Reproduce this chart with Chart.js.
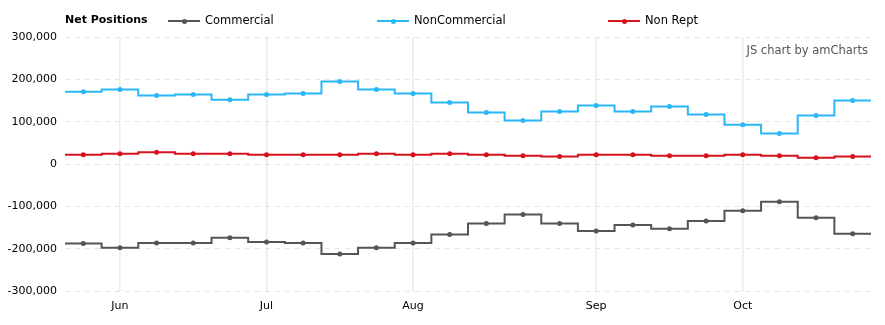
<!DOCTYPE html>
<html>
<head>
<meta charset="utf-8">
<script src="https://cdn.jsdelivr.net/npm/chart.js@4/dist/chart.umd.min.js"></script>
<style>
  body { margin: 0; background: #fff; font-family: "DejaVu Sans", Verdana, sans-serif; }
  #wrap { position: relative; width: 885px; height: 325px; }
  #legend { position: absolute; top: 12px; left: 0; width: 885px; height: 18px; font-size: 11.5px; color: #000; }
  #legend .title { position: absolute; left: 65px; top: 1px; font-weight: bold; font-size: 11px; }
  #legend .item { position: absolute; top: 0; white-space: nowrap; }
  #legend .mark { position: absolute; top: 8px; width: 32px; height: 2px; }
  #legend .mark i { position: absolute; left: 14px; top: -1.5px; width: 5px; height: 5px; border-radius: 50%; }
  #legend .txt { position: absolute; left: 37px; top: 1px; }
  #credit { position: absolute; right: 17px; top: 43px; font-size: 11.5px; color: #555; }
</style>
</head>
<body>
<div id="wrap">
  <canvas id="posChart" width="885" height="325"></canvas>
  <div id="legend"></div>
  <div id="credit">JS chart by amCharts</div>
</div>
<script>
// weekly report dates
const dates = ['2017-05-30', '2017-06-06', '2017-06-13', '2017-06-20', '2017-06-27',
  '2017-07-04', '2017-07-11', '2017-07-18', '2017-07-25', '2017-08-01', '2017-08-08',
  '2017-08-15', '2017-08-22', '2017-08-29', '2017-09-05', '2017-09-12', '2017-09-19',
  '2017-09-26', '2017-10-03', '2017-10-10', '2017-10-17', '2017-10-24'];

const commercial = [-188000, -198000, -186500, -186500, -174500, -184000, -186500, -212500,
  -198000, -186500, -166500, -140500, -119500, -140500, -158000, -144000, -153000,
  -134500, -110500, -89000, -127000, -165000];
const nonCommercial = [170500, 176000, 162000, 164000, 152000, 164000, 166500, 195000,
  176000, 166500, 145000, 121500, 102500, 124000, 138000, 124000, 136000, 117000,
  93000, 72000, 114500, 150000];
const nonRept = [22000, 24500, 27500, 24500, 24500, 22000, 22000, 22000, 24500, 22000,
  24500, 22000, 19500, 17500, 22000, 22000, 19500, 19500, 22000, 19500, 15000, 17500];

const yTicks = [-300000, -200000, -100000, 0, 100000, 200000, 300000];
const monthNames = ['Jan', 'Feb', 'Mar', 'Apr', 'May', 'Jun', 'Jul', 'Aug', 'Sep', 'Oct', 'Nov', 'Dec'];

const series = [
  { label: 'Commercial', data: commercial, color: '#555555' },
  { label: 'NonCommercial', data: nonCommercial, color: '#2ab7f7' },
  { label: 'Non Rept', data: nonRept, color: '#d5121d' }
];

function monthStart(i) {
  if (i === 0) return null;
  const m = +dates[i].slice(5, 7), pm = +dates[i - 1].slice(5, 7);
  return m !== pm ? monthNames[m - 1] : null;
}

// carry the step lines out to the edges of the plot
const edgeSteps = {
  id: 'edgeSteps',
  afterDatasetsDraw(chart) {
    const ctx = chart.ctx, area = chart.chartArea;
    chart.data.datasets.forEach((ds, i) => {
      const pts = chart.getDatasetMeta(i).data;
      const first = pts[0], last = pts[pts.length - 1];
      ctx.save();
      ctx.strokeStyle = ds.borderColor;
      ctx.lineWidth = ds.borderWidth;
      ctx.beginPath();
      ctx.moveTo(area.left, first.y); ctx.lineTo(first.x, first.y);
      ctx.moveTo(last.x, last.y); ctx.lineTo(area.right, last.y);
      ctx.stroke();
      ctx.restore();
    });
  }
};

const ctx = document.getElementById('posChart').getContext('2d');
new Chart(ctx, {
  type: 'line',
  data: {
    labels: dates,
    datasets: series.map(s => ({
      label: s.label,
      data: s.data,
      borderColor: s.color,
      backgroundColor: s.color,
      borderWidth: 2,
      stepped: 'middle',
      pointRadius: 2.5,
      pointBorderWidth: 0,
      pointHoverRadius: 3,
      fill: false
    }))
  },
  options: {
    responsive: false,
    animation: false,
    layout: { padding: { top: 37, right: 14, bottom: 0, left: 0 } },
    plugins: {
      legend: { display: false },
      tooltip: { enabled: false }
    },
    scales: {
      x: {
        offset: true,
        border: { display: false },
        grid: {
          offset: false,
          drawTicks: false,
          lineWidth: 1.5,
          color: '#ececec'
        },
        ticks: {
          autoSkip: false,
          maxRotation: 0,
          padding: 9,
          color: '#000',
          font: { family: 'DejaVu Sans', size: 11 },
          callback: (v, i) => monthStart(i)
        },
        afterFit: s => { s.height = 34; }
      },
      y: {
        min: -300000,
        max: 300000,
        border: { display: false, dash: [5, 5] },
        afterBuildTicks: s => { s.ticks = yTicks.map(v => ({ value: v })); },
        grid: {
          drawTicks: false,
          color: '#e4e4e4',
          lineWidth: 1
        },
        ticks: {
          padding: 8,
          color: '#000',
          font: { family: 'DejaVu Sans', size: 11 },
          callback: v => v.toLocaleString('en-US')
        },
        afterFit: s => { s.width = 65; }
      }
    }
  },
  plugins: [edgeSteps]
});

// legend row in the amCharts style
const legend = document.getElementById('legend');
legend.innerHTML = '<span class="title">Net Positions</span>';
const itemLeft = [168, 377, 608];
series.forEach((s, i) => {
  const el = document.createElement('div');
  el.className = 'item';
  el.style.left = itemLeft[i] + 'px';
  el.innerHTML = '<span class="mark" style="background:' + s.color + '"><i style="background:' + s.color +
    '"></i></span><span class="txt">' + s.label + '</span>';
  legend.appendChild(el);
});
</script>
</body>
</html>
